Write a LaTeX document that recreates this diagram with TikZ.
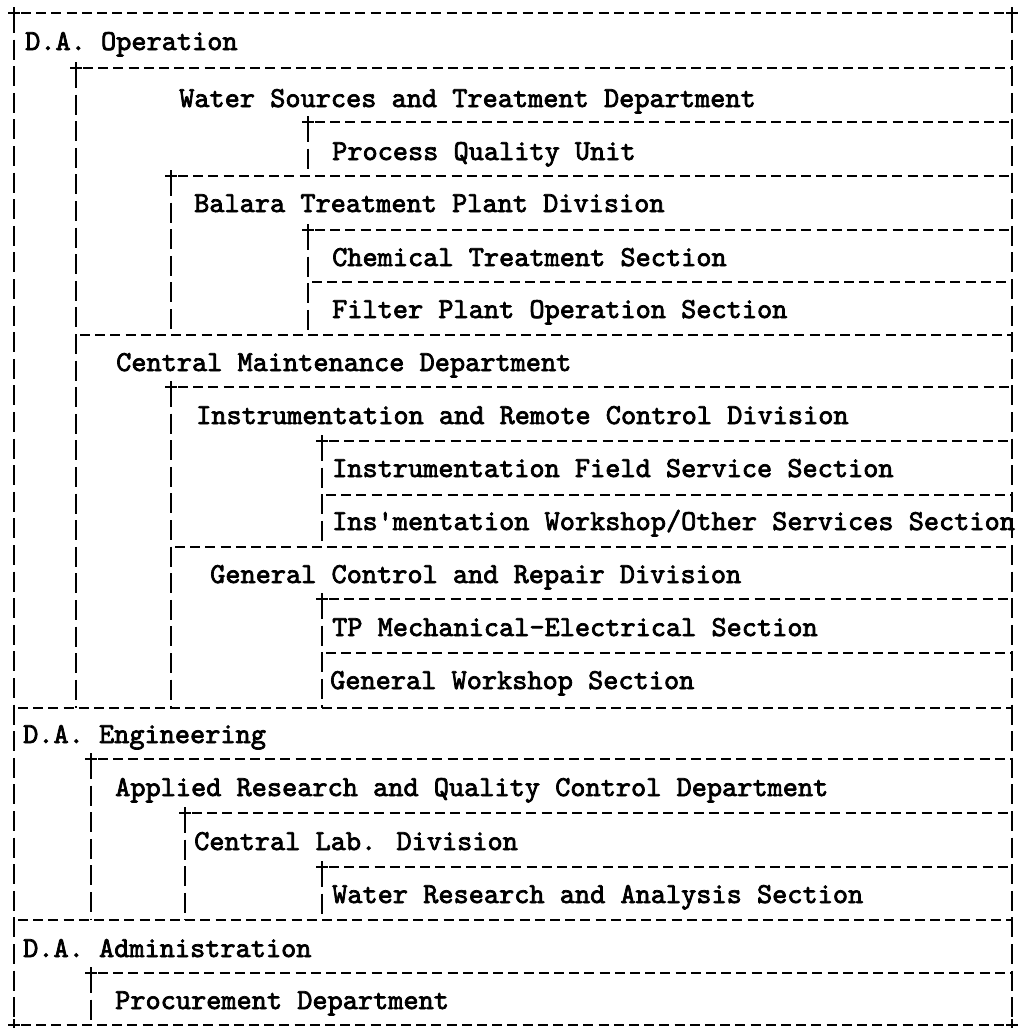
\documentclass[tikz,border=0pt]{standalone}
\usepackage{fontspec}
\newfontfamily\chartfont{lmmono10-regular.otf}[FakeBold=2.5]
\tikzset{
  dline/.style={line width=1.6pt, dash pattern=on 10pt off 5.2pt},
  vline/.style={line width=1.6pt, dash pattern=on 20pt off 6.6pt},
  unit/.style={anchor=base west, inner sep=0pt, font=\chartfont\fontsize{28.9}{32}\selectfont},
  junct/.style={line width=1.6pt}
}
\newcommand{\junction}[1]{\draw[junct] (#1) +(-6,0) -- +(6,0) +(0,-6) -- +(0,6);}
\begin{document}
\begin{tikzpicture}[x=1pt, y=-1pt]
    \useasboundingbox (0,0) rectangle (1025,1028);

    % Marco exterior
    \draw[vline] (14,13) -- (14,1025);
    \draw[vline] (1012,13) -- (1012,1025);
    \draw[dline] (21,13) -- (1006,13);
    \draw[dline] (21,1025) -- (1006,1025);
    \junction{14,13}
    \junction{1012,13}
    \junction{14,1025}
    \junction{1012,1025}

    % D.A. Operation
    \node[unit] (daop) at (25,50) {D.A. Operation};
    \draw[vline] (76,68) -- (76,708);
    \draw[dline] (83,68) -- (1012,68);
    \junction{76,68}

    % Water Sources and Treatment Department
    \node[unit] (wstd) at (179,107) {Water Sources and Treatment Department};
    \draw[dline] (315,122) -- (1012,122);
    \junction{308,122}
    \draw[vline] (308,122) -- (308,176);
    \node[unit] (pqu) at (332,160) {Process Quality Unit};

    % Balara Treatment Plant Division
    \draw[dline] (178,176) -- (1012,176);
    \junction{171,176}
    \draw[vline] (171,176) -- (171,335);
    \node[unit] (btpd) at (194,212) {Balara Treatment Plant Division};
    \draw[dline] (315,230) -- (1012,230);
    \junction{308,230}
    \draw[vline] (308,230) -- (308,335);
    \node[unit] (cts) at (332,266) {Chemical Treatment Section};
    \draw[dline] (312,282) -- (1012,282);
    \node[unit] (fpos) at (332,318) {Filter Plant Operation Section};

    % Central Maintenance Department
    \draw[dline] (80,335) -- (1012,335);
    \node[unit] (cmd) at (116,371) {Central Maintenance Department};
    \draw[dline] (178,387) -- (1012,387);
    \junction{171,387}
    \draw[vline] (171,387) -- (171,708);

    % Instrumentation and Remote Control Division
    \node[unit] (ircd) at (196,424) {Instrumentation and Remote Control Division};
    \draw[dline] (329,441) -- (1012,441);
    \junction{322,441}
    \draw[vline] (322,441) -- (322,547);
    \node[unit] (ifss) at (332,477) {Instrumentation Field Service Section};
    \draw[dline] (326,495) -- (1012,495);
    \node[unit] (iwos) at (332,530) {Ins'mentation Workshop/Other Services Section};

    % General Control and Repair Division
    \draw[dline] (175,547) -- (1012,547);
    \node[unit] (gcrd) at (210,583) {General Control and Repair Division};
    \draw[dline] (329,599) -- (1012,599);
    \junction{322,599}
    \draw[vline] (322,599) -- (322,708);
    \node[unit] (tpme) at (332,636) {TP Mechanical-Electrical Section};
    \draw[dline] (326,653) -- (1012,653);
    \node[unit] (gws) at (330,689) {General Workshop Section};

    % D.A. Engineering
    \draw[dline] (18,708) -- (1012,708);
    \node[unit] (daeng) at (23,743) {D.A. Engineering};
    \draw[dline] (98,759) -- (1012,759);
    \junction{91,759}
    \draw[vline] (91,759) -- (91,920);
    \node[unit] (arqc) at (115,796) {Applied Research and Quality Control Department};
    \draw[dline] (192,813) -- (1012,813);
    \junction{185,813}
    \draw[vline] (185,813) -- (185,920);
    \node[unit] (cld) at (194,850) {Central Lab. Division};
    \draw[dline] (329,867) -- (1012,867);
    \junction{322,867}
    \draw[vline] (322,867) -- (322,920);
    \node[unit] (wras) at (332,903) {Water Research and Analysis Section};

    % D.A. Administration
    \draw[dline] (18,920) -- (1012,920);
    \node[unit] (daadm) at (23,957) {D.A. Administration};
    \draw[dline] (98,973) -- (1012,973);
    \junction{91,973}
    \draw[vline] (91,973) -- (91,1025);
    \node[unit] (prd) at (115,1009) {Procurement Department};

\end{tikzpicture}
\end{document}
